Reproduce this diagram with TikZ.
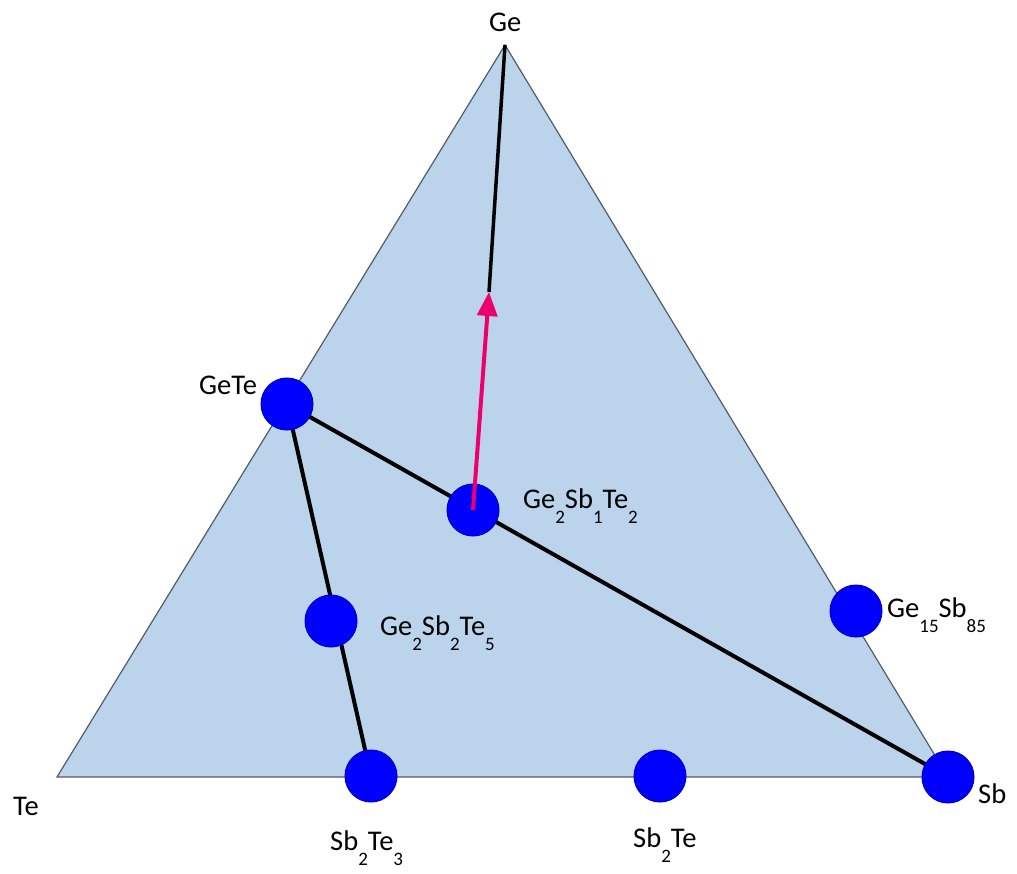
\documentclass[tikz,border=0pt]{standalone}
\usepackage{fontspec}
\setmainfont{Carlito}
\usepackage{tikz}
\usetikzlibrary{arrows.meta,backgrounds}

\definecolor{phasefill}{RGB}{187,212,236}
\definecolor{edgegray}{RGB}{80,92,104}
\definecolor{arrowred}{RGB}{236,0,108}
\newcommand{\lsub}[1]{\raisebox{-15pt}{\fontsize{19}{22}\selectfont #1}}

\begin{document}
\begin{tikzpicture}[
  x=1pt, y=-1pt,
  font=\fontsize{28.5}{32}\selectfont,
  dot/.style={circle, draw=blue!75!black, line width=1pt, fill=blue, minimum size=52pt, inner sep=0pt},
  lbl/.style={anchor=base west, inner sep=0pt},
  tie/.style={line width=4pt, black},
  arr/.style={-{Triangle[length=24pt,width=20pt]}, line width=4pt, arrowred}
]
\useasboundingbox (0,0) rectangle (1017,874);
% composition triangle
\coordinate (te) at (57,777);
\coordinate (ge) at (505,45);
\coordinate (sb) at (948,777);

\node[dot] (GeTe) at (287,404) {};
\node[dot] (GST212) at (473,510) {};
\node[dot] (GST225) at (331,621) {};
\node[dot] (SbTe23) at (371,776) {};
\node[dot] (SbTe21) at (660,776) {};
\node[dot] (GeSb) at (856,611) {};
\node[dot] (Sb) at (948,777) {};
\coordinate (tip) at (489,292);

\begin{scope}[on background layer]
\fill[phasefill] (te) -- (ge) -- (sb) -- cycle;
\draw[edgegray, line width=1.2pt] (te) -- (ge) -- (sb) -- cycle;
\draw[tie] (GeTe.center) -- (Sb.center);
\draw[tie] (GeTe.center) -- (SbTe23.center);
\end{scope}
\draw[tie, line width=3.5pt] (ge) -- (tip);
\draw[arr] (GST212.center) -- (tip);

\node[lbl] (lGe) at (489,32) {Ge};
\node[lbl] (lGeTe) at (199,395) {GeTe};
\node[lbl] (lTe) at (13,815) {Te};
\node[lbl] (lSb) at (978,803) {Sb};
\node[lbl] (lGST212) at (523,508) {Ge\lsub{2}Sb\lsub{1}Te\lsub{2}};
\node[lbl] (lGST225) at (380,635) {Ge\lsub{2}Sb\lsub{2}Te\lsub{5}};
\node[lbl] (lGeSb) at (887,617) {Ge\lsub{15}Sb\lsub{85}};
\node[lbl] (lSbTe23) at (330,850) {Sb\lsub{2}Te\lsub{3}};
\node[lbl] (lSbTe21) at (633,847) {Sb\lsub{2}Te};
\end{tikzpicture}
\end{document}
